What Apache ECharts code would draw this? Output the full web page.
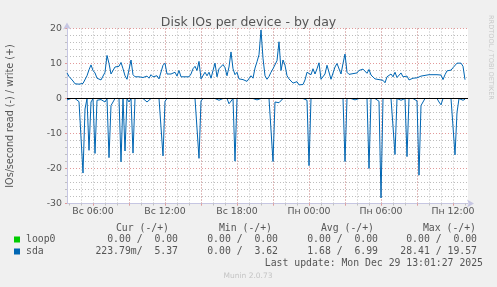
<!DOCTYPE html>
<html><head><meta charset="utf-8">
<script src="https://cdn.jsdelivr.net/npm/echarts@6/dist/echarts.min.js"></script>
<style>html,body{margin:0;padding:0;background:#f0f0f0}#c{width:497px;height:287px}</style>
</head><body><div id="c"></div>
<script>
// ---- data ----
const chartTitle = 'Disk IOs per device - by day';
const yAxisTitle = 'IOs/second read (-) / write (+)';
const startHour = 3 + 50 / 60;   // Sunday 03:50
const stepHours = 10 / 60;        // 10-minute samples
const xMin = 3 + 50 / 60;
const xMax = 37.25;               // Monday 13:15
const xLabelHours = [6, 12, 18, 24, 30, 36];
const dayNames = ['Вс', 'Пн'];
const yTickValues = [-30, -20, -10, 0, 10, 20];

const sdaWrite = [
  7.3, 6.3, 5.8, 5.0, 4.2, 4.1, 4.1, 4.6, 4.3, 4.0,
  6.5, 8.2, 9.6, 8.0, 7.3, 5.8, 5.3, 5.3, 5.2, 7.5,
  12.3, 10.0, 7.0, 7.0, 9.0, 9.0, 9.2, 10.3, 8.5, 6.5,
  5.5, 5.5, 11.0, 6.8, 6.2, 6.0, 6.2, 5.8, 6.0, 5.8,
  6.4, 5.8, 6.8, 6.2, 6.0, 6.5, 5.6, 5.4, 9.5, 10.1,
  7.0, 6.5, 7.0, 7.3, 7.5, 6.4, 8.0, 6.2, 6.6, 6.2,
  6.0, 6.2, 7.0, 8.5, 9.2, 8.0, 10.6, 5.6, 5.8, 7.5,
  6.5, 7.5, 5.8, 8.0, 10.1, 6.2, 8.5, 8.5, 9.7, 8.8,
  6.5, 9.0, 13.3, 8.5, 6.8, 7.5, 5.6, 5.5, 5.4, 5.0,
  4.9, 4.6, 6.5, 5.8, 8.7, 10.5, 12.5, 19.57, 11.5, 6.5,
  5.5, 6.3, 7.5, 8.5, 9.0, 10.8, 16.2, 8.0, 11.0, 9.5,
  6.5, 5.6, 5.8, 4.4, 4.0, 4.8, 3.9, 3.62, 4.0, 5.3,
  7.5, 8.0, 6.8, 8.5, 7.0, 8.5, 10.2, 5.5, 5.6, 7.0,
  9.5, 9.5, 5.5, 6.0, 9.0, 10.0, 10.5, 7.0, 10.0, 12.7,
  7.5, 6.9, 7.2, 7.1, 7.1, 7.3, 8.0, 7.6, 8.4, 8.0,
  7.2, 8.3, 6.7, 6.2, 5.6, 5.3, 5.4, 5.8, 5.2, 4.5,
  6.2, 6.0, 7.0, 6.2, 7.5, 6.0, 6.5, 7.3, 6.2, 6.3,
  6.4, 5.3, 5.2, 5.8, 5.8, 5.9, 5.9, 6.4, 5.9, 6.6,
  6.4, 6.8, 6.4, 6.8, 6.4, 6.8, 7.0, 6.7, 5.4, 6.8,
  7.9, 7.6, 8.1, 8.8, 8.8, 10.1, 10.1, 10.1, 9.2, 5.37
];
const sdaRead = [
  0.4, 0, 0, 0, 0, 0, 0.9, 0.5, 21.3, 3.0,
  0, 14.8, 1.0, 0, 15.7, 0.5, 0, 0.3, 0, 1.0,
  0, 16.9, 2.0, 1.0, 0, 0, 0, 18.1, 0, 15.0,
  0, 1.0, 0, 15.6, 0, 0, 0, 0, 0, 0,
  1.0, 1.2, 0, 0, 0, 0, 0, 0, 16.4, 0.8,
  0, 0, 0, 0, 0, 0, 0, 0.4, 0, 0,
  0, 0, 0, 0, 0, 0, 17.1, 0.7, 0, 0,
  0, 0, 0, 0, 0, 0, 0.5, 0, 0, 0,
  0, 1.5, 1.0, 0, 17.9, 0, 0, 0, 0, 0,
  0, 0, 0.3, 0, 0, 0.4, 0, 0, 0.5, 0,
  0.3, 0, 0, 18.0, 1.0, 1.5, 1.2, 0.8, 0, 0,
  0, 0, 0, 0, 0, 0, 0, 0, 0, 0,
  0.5, 19.2, 0, 0, 0, 0, 0, 0, 0, 0,
  0, 0, 0, 0, 0, 0, 0, 0, 0, 18.0,
  0, 0, 0, 0, 0.4, 0, 0, 0, 0, 0,
  0, 20.0, 0, 0, 0, 0.5, 0.8, 28.41, 0, 0,
  0, 0, 0, 0.5, 16.0, 0, 0, 0.5, 0.4, 0,
  16.6, 0, 0, 0, 0, 0.7, 21.9, 2.0, 1.0, 0,
  0, 0, 0, 0, 0, 0, 1.0, 1.8, 0, 0,
  0, 0, 0, 0, 16.1, 4.0, 0, 0, 0.5, 0.22
];
const loop0Hours = [3 + 50 / 60, 37.0];
const loop0Write = [0, 0];
const loop0Read = [0, 0];

const legendNames = ['loop0', 'sda'];
const legendColors = ['#00cc00', '#0066b3'];
const curRead = [0, 0.22379], curWrite = [0, 5.37];
const minRead = [0, 0], minWrite = [0, 3.62];
const avgRead = [0, 1.68], avgWrite = [0, 6.99];
const maxRead = [0, 28.41], maxWrite = [0, 19.57];
const lastUpdate = 'Last update: Mon Dec 29 13:01:27 2025';
const muninVersion = 'Munin 2.0.73';
const rrdCredit = 'RRDTOOL / TOBI OETIKER';

// ---- helpers ----
function fmt(v) {
  if (v !== 0 && Math.abs(v) < 1) return (v * 1000).toFixed(2).padStart(6, ' ') + 'm';
  return v.toFixed(2).padStart(6, ' ') + ' ';
}
function pair(r, w) { return (fmt(r) + '/' + fmt(w)).trimEnd(); }
function hourLabel(h) {
  const d = dayNames[Math.floor(h / 24)];
  const hh = String(Math.round(h % 24)).padStart(2, '0');
  return d + ' ' + hh + ':00';
}
const minorHours = [];
for (let h = Math.ceil(xMin); h <= xMax; h++) minorHours.push(h);
const majorHours = minorHours.filter(h => h % 3 === 0);

const txt = '#555555';
const sans = 'DejaVu Sans';
const mono = 'DejaVu Sans Mono';
const minorCol = '#bdbdbd';
const majorCol = '#e29a9a';
const axisCol = '#c6c6e2';

const toPts = (arr, sign) => arr.map((v, i) => [startHour + i * stepHours, sign * v]);

// legend graphics
const g = [];
const colRight = [178, 278, 378, 477];
const headRight = [169, 272, 374, 476];
const heads = ['Cur (-/+)', 'Min (-/+)', 'Avg (-/+)', 'Max (-/+)'];
const rowY = [239.5, 251.5];
const lf = { fontFamily: mono, fontSize: 9.8, fill: txt, verticalAlign: 'middle' };
heads.forEach((h, k) => g.push({ type: 'text', x: headRight[k], y: 228, style: Object.assign({ text: h, align: 'right' }, lf) }));
legendNames.forEach((n, r) => {
  g.push({ type: 'rect', shape: { x: 14, y: rowY[r] - 3, width: 6, height: 6 }, style: { fill: legendColors[r] } });
  g.push({ type: 'text', x: 26, y: rowY[r], style: Object.assign({ text: n, align: 'left' }, lf) });
  const cells = [pair(curRead[r], curWrite[r]), pair(minRead[r], minWrite[r]), pair(avgRead[r], avgWrite[r]), pair(maxRead[r], maxWrite[r])];
  cells.forEach((c, k) => g.push({ type: 'text', x: colRight[k], y: rowY[r], style: Object.assign({ text: c.trim(), align: 'right' }, lf) }));
});
g.push({ type: 'text', x: 483, y: 263.5, style: Object.assign({ text: lastUpdate, align: 'right' }, lf) });
g.push({ type: 'text', x: 248, y: 276, style: { text: muninVersion, align: 'center', verticalAlign: 'middle', fontFamily: sans, fontSize: 7.5, fill: '#c4c4c4' } });
g.push({ type: 'text', x: 491, y: 15, rotation: -Math.PI / 2, style: { text: rrdCredit, align: 'left', verticalAlign: 'middle', fontFamily: sans, fontSize: 6.6, fill: '#c8c8c8' } });

const chart = echarts.init(document.getElementById('c'), null, { renderer: 'canvas' });
chart.setOption({
  animation: false,
  backgroundColor: '#f0f0f0',
  textStyle: { fontFamily: sans },
  title: { text: chartTitle, left: 'center', top: 11, textStyle: { fontFamily: sans, fontSize: 12.5, fontWeight: 'normal', color: txt } },
  grid: { left: 67, right: 29, top: 28.5, bottom: 83.5, show: true, backgroundColor: '#ffffff', borderWidth: 0, outerBoundsMode: 'none', containLabel: false },
  xAxis: [
    { type: 'value', min: xMin, max: xMax, position: 'bottom',
      axisLine: { show: true, onZero: false, lineStyle: { color: axisCol, width: 1 }, symbol: ['none', 'arrow'], symbolSize: [6, 7], symbolOffset: [0, 6] },
      axisTick: { show: true, customValues: minorHours, length: 2, lineStyle: { color: '#c0c0c0' } },
      axisLabel: { show: false },
      splitLine: { show: true, showMinLine: false, showMaxLine: false, lineStyle: { color: minorCol, type: [1, 2], width: 1 } } },
    { type: 'value', min: xMin, max: xMax, position: 'bottom',
      axisLine: { show: false, onZero: false },
      axisTick: { show: true, customValues: majorHours, length: 2, lineStyle: { color: majorCol } },
      axisLabel: { show: true, customValues: xLabelHours, formatter: hourLabel, color: txt, fontFamily: sans, fontSize: 9.4, margin: 4 },
      splitLine: { show: true, showMinLine: false, showMaxLine: false, lineStyle: { color: majorCol, type: [1, 2], width: 1 } } }
  ],
  yAxis: [
    { type: 'value', min: -30, max: 20, interval: 2, position: 'left',
      name: yAxisTitle, nameLocation: 'middle', nameGap: 52, nameRotate: 90,
      nameTextStyle: { color: txt, fontFamily: sans, fontSize: 9.6 },
      axisLine: { show: true, onZero: false, lineStyle: { color: axisCol, width: 1 }, symbol: ['none', 'arrow'], symbolSize: [6, 7], symbolOffset: [0, 6] },
      axisTick: { show: true, length: 2, lineStyle: { color: '#c0c0c0' } },
      axisLabel: { show: false },
      splitLine: { show: true, lineStyle: { color: minorCol, type: [1, 2], width: 1 } } },
    { type: 'value', min: -30, max: 20, interval: 10, position: 'left', offset: 0,
      axisLine: { show: false, onZero: false },
      axisTick: { show: true, length: 2, lineStyle: { color: majorCol } },
      axisLabel: { show: true, color: txt, fontFamily: sans, fontSize: 9.4, margin: 5 },
      splitLine: { show: true, lineStyle: { color: majorCol, type: [1, 2], width: 1 } } }
  ],
  series: [
    { name: 'loop0', type: 'line', xAxisIndex: 0, yAxisIndex: 0, showSymbol: false, silent: true, z: 1,
      data: loop0Hours.map((h, i) => [h, loop0Write[i]]), lineStyle: { width: 1, color: legendColors[0] } },
    { name: 'loop0 read', type: 'line', xAxisIndex: 0, yAxisIndex: 0, showSymbol: false, silent: true, z: 1,
      data: loop0Hours.map((h, i) => [h, -loop0Read[i]]), lineStyle: { width: 1, color: legendColors[0] } },
    { name: 'sda', type: 'line', xAxisIndex: 0, yAxisIndex: 0, showSymbol: false, silent: true, z: 2,
      data: toPts(sdaWrite, 1), lineStyle: { width: 1, color: legendColors[1] } },
    { name: 'sda read', type: 'line', xAxisIndex: 0, yAxisIndex: 0, showSymbol: false, silent: true, z: 2,
      data: toPts(sdaRead, -1), lineStyle: { width: 1, color: legendColors[1] } },
    { name: 'zero', type: 'line', xAxisIndex: 0, yAxisIndex: 0, data: [], z: 5, silent: true,
      markLine: { silent: true, symbol: ['none', 'none'], label: { show: false }, lineStyle: { color: '#000000', width: 1.2, type: 'solid' }, data: [{ yAxis: 0 }] } }
  ],
  graphic: g
});
</script></body></html>
